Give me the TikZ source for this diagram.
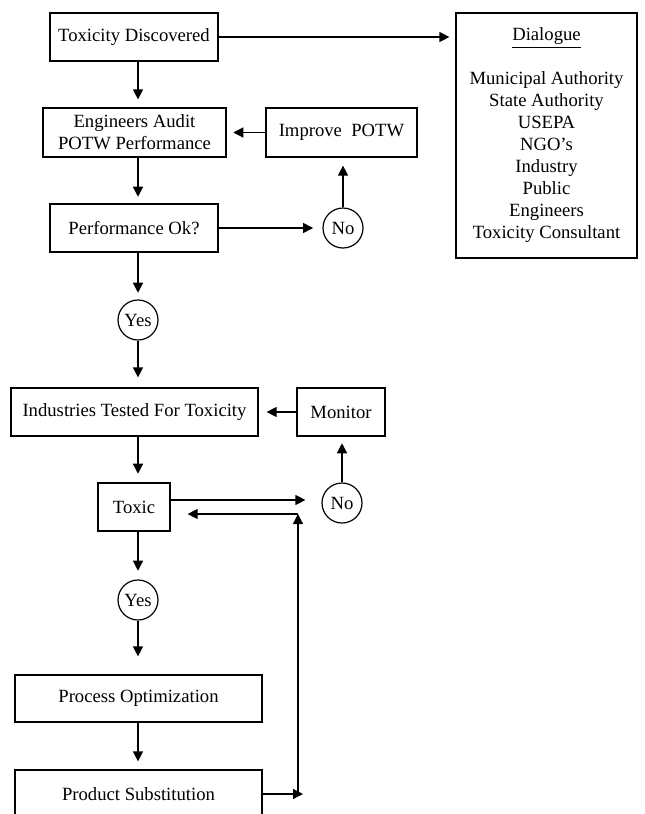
\documentclass[tikz,border=0pt]{standalone}
\usepackage{fontspec}
\setmainfont{Liberation Serif}
\usetikzlibrary{arrows.meta}
\usetikzlibrary{calc}

\begin{document}
\begin{tikzpicture}[x=0.75pt, y=-0.75pt, >={Triangle[length=7.5pt, width=7.5pt]},
    box/.style={draw, line width=0.9pt, inner sep=0pt, align=center,
      font=\fontsize{14}{16.5}\selectfont},
    answer/.style={draw, circle, line width=0.9pt, minimum size=30pt, inner sep=0pt,
      font=\fontsize{14}{16.5}\selectfont},
    flow/.style={->, line width=0.9pt, shorten >=#1},
    flow/.default=6pt]
  \useasboundingbox (0,0) rectangle (644,814);
  \clip (0,0) rectangle (644,814);
  %--- POTW part
    \node[box, minimum width=126pt, minimum height=36pt] (disc) at (134,37) {Toxicity Discovered};
    \node[box, minimum width=137.25pt, minimum height=36.75pt] (audit) at (134.5,132.5) {Engineers Audit\\POTW Performance};
    \node[box, minimum width=113.25pt, minimum height=36.75pt] (improve) at (341.5,132.5) {Improve\ \ POTW};
    \node[box, minimum width=126pt, minimum height=36pt] (perf) at (134,228) {Performance Ok?};
    \node[answer] (no1) at (343,228) {No};
    \node[answer] (yes1) at (138,320) {Yes};
  %--- Dialogue
    \node[box, minimum width=135.75pt, minimum height=183.75pt] (dialog) at (546.5,135.5)
      {\underline{Dialogue}\\[16.5pt]Municipal Authority\\State Authority\\USEPA\\NGO's\\Industry\\Public\\Engineers\\Toxicity Consultant};
  %--- Industries part
    \node[box, minimum width=185.25pt, minimum height=36pt] (tested) at (134.5,412) {Industries Tested For Toxicity};
    \node[box, minimum width=66pt, minimum height=36pt] (monitor) at (341,412) {Monitor};
    \node[box, minimum width=54pt, minimum height=36pt] (toxic) at (134,507) {Toxic};
    \node[answer] (no2) at (342,503) {No};
    \node[answer] (yes2) at (138,600) {Yes};
    \node[box, minimum width=185.25pt, minimum height=35.25pt] (optim) at (138.5,698.5) {Process Optimization};
    \node[box, minimum width=185.25pt, minimum height=36pt] (subst) at (138.5,794) {Product Substitution};
  %--- main column
    \draw[flow] (disc.south -| yes1) -- (audit.north -| yes1);
    \draw[flow=5pt] (audit.south -| yes1) -- (perf.north -| yes1);
    \draw[flow=5pt] (perf.south -| yes1) -- (yes1.north);
    \draw[flow=7.5pt] (yes1.south) -- (tested.north -| yes1);
    \draw[flow=6.5pt] (tested.south -| yes1) -- (toxic.north -| yes1);
    \draw[flow=6.5pt] (toxic.south -| yes2) -- (yes2.north);
    \draw[flow=13.5pt] (yes2.south) -- (optim.north -| yes2);
    \draw[flow] (optim.south -| yes2) -- (subst.north -| yes2);
  %--- side loops
    \draw[flow=4.5pt] (disc.east) -- (dialog.west |- disc.east);
    \draw[flow=5pt] (improve.west) -- (audit.east |- improve.west);
    \draw[flow=7pt] (perf.east) -- (no1.west);
    \draw[flow] (no1.north) -- (improve.south -| no1);
    \draw[flow] (monitor.west) -- (tested.east |- monitor.west);
    \draw[flow=5pt] (no2.north) -- (monitor.south -| no2);
    \draw[flow=12pt] ($(toxic.east)+(0,-7)$) -- ($(no2.west)+(0,-3)$);
  %--- feedback from substitution
    \coordinate (feedin) at (303,794);
    \coordinate (loopbot) at (298,794);
    \coordinate (looptop) at (298,514);
    \draw[flow=0pt] (subst.east) -- (feedin);
    \draw[flow=0pt] (loopbot) -- (looptop);
    \draw[flow=12.75pt] (looptop) -- (toxic.east |- looptop);
\end{tikzpicture}
\end{document}
